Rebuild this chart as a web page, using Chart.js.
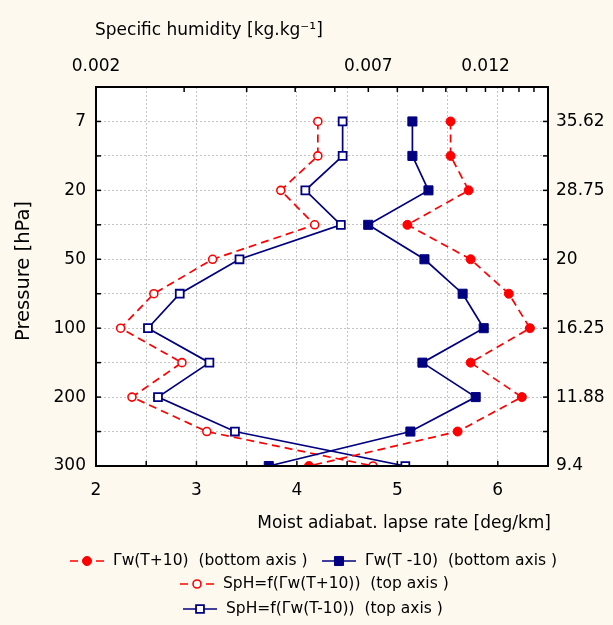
<!DOCTYPE html>
<html>
<head>
<meta charset="utf-8">
<script src="https://cdn.jsdelivr.net/npm/chart.js@4/dist/chart.umd.min.js"></script>
<style>
  body { margin: 0; background: #fdf9ee; }
  canvas { display: block; }
</style>
</head>
<body>
<canvas id="chart" width="613" height="625"></canvas>
<script>
// pressure levels (rows, top to bottom) and heights on the right axis
const pressureLevels = ['7', '10', '20', '30', '50', '70', '100', '150', '200', '250', '300']
const heightLabels = ['35.62', '', '28.75', '', '20', '', '16.25', '', '11.88', '', '9.4']

// moist adiabatic lapse rate [deg/km] (bottom axis)
const gwWarm = [5.53, 5.53, 5.71, 5.10, 5.73, 6.11, 6.32, 5.73, 6.24, 5.60, 4.12]
const gwCold = [5.15, 5.15, 5.31, 4.71, 5.27, 5.65, 5.86, 5.25, 5.78, 5.13, 3.72]

// specific humidity [kg/kg] (top axis, log)
const sphWarm = [0.00555, 0.00555, 0.00468, 0.00547, 0.00342, 0.00261, 0.00224, 0.00297, 0.00236, 0.00333, 0.00715]
const sphCold = [0.00622, 0.00622, 0.00524, 0.00617, 0.00387, 0.00294, 0.00254, 0.00337, 0.00266, 0.00379, 0.0083]

const sphTicks = [0.002, 0.003, 0.004, 0.005, 0.006, 0.007, 0.008, 0.009, 0.010, 0.011, 0.012, 0.013, 0.014, 0.015, 0.016]
const sphLabels = [0.002, 0.007, 0.012]

const RED = '#ff0000'
const NAVY = '#000080'
const FONT = '"DejaVu Sans", sans-serif'

const toPoints = arr => arr.map((v, i) => ({ x: v, y: i }))

// fundo creme + area do grafico branca
const bgPlugin = {
  id: 'bg',
  beforeDraw(chart) {
    const { ctx, chartArea: a } = chart
    ctx.save()
    ctx.fillStyle = '#fdf9ee'
    ctx.fillRect(0, 0, chart.width, chart.height)
    ctx.fillStyle = '#ffffff'
    ctx.fillRect(a.left, a.top, a.right - a.left, a.bottom - a.top)
    ctx.restore()
  }
}

// moldura, ticks para dentro, titulos e legenda
const framePlugin = {
  id: 'frame',
  afterDraw(chart) {
    const { ctx, chartArea: a } = chart
    ctx.save()
    ctx.strokeStyle = '#000'
    ctx.lineWidth = 1.5
    const len = 5
    const sc = chart.scales
    sc.x.ticks.forEach(t => {
      const p = sc.x.getPixelForValue(t.value)
      ctx.beginPath(); ctx.moveTo(p, a.bottom); ctx.lineTo(p, a.bottom - len); ctx.stroke()
    })
    sc.x2.ticks.forEach(t => {
      const p = sc.x2.getPixelForValue(t.value)
      ctx.beginPath(); ctx.moveTo(p, a.top); ctx.lineTo(p, a.top + len); ctx.stroke()
    })
    sc.y.ticks.forEach(t => {
      const p = sc.y.getPixelForValue(t.value)
      ctx.beginPath(); ctx.moveTo(a.left, p); ctx.lineTo(a.left + len, p); ctx.stroke()
    })
    sc.y2.ticks.forEach(t => {
      const p = sc.y2.getPixelForValue(t.value)
      ctx.beginPath(); ctx.moveTo(a.right, p); ctx.lineTo(a.right - len, p); ctx.stroke()
    })
    ctx.lineWidth = 2
    ctx.strokeRect(a.left, a.top, a.right - a.left, a.bottom - a.top)

    // titulos
    ctx.fillStyle = '#000'
    ctx.font = '17px ' + FONT
    ctx.textBaseline = 'middle'
    ctx.textAlign = 'left'
    ctx.fillText('Specific humidity [kg.kg\u207B\u00B9]', 95, 31)
    ctx.textAlign = 'right'
    ctx.fillText('Moist adiabat. lapse rate [deg/km]', 551, 524)
    ctx.save()
    ctx.font = '19.5px ' + FONT
    ctx.translate(24, 271)
    ctx.rotate(-Math.PI / 2)
    ctx.textAlign = 'center'
    ctx.fillText('Pressure [hPa]', 0, 0)
    ctx.restore()

    // legenda
    const items = [
      { ds: 0, x: 87, y: 561, text: 'Γw(T+10)  (bottom axis )' },
      { ds: 1, x: 339, y: 561, text: 'Γw(T -10)  (bottom axis )' },
      { ds: 2, x: 197, y: 584, text: 'SpH=f(Γw(T+10))  (top axis )' },
      { ds: 3, x: 200, y: 609, text: 'SpH=f(Γw(T-10))  (top axis )' }
    ]
    ctx.font = '15.5px ' + FONT
    ctx.textAlign = 'left'
    items.forEach(it => {
      const d = chart.data.datasets[it.ds]
      ctx.save()
      ctx.strokeStyle = d.borderColor
      ctx.lineWidth = d.borderWidth
      ctx.setLineDash(d.borderDash || [])
      ctx.beginPath(); ctx.moveTo(it.x - 17, it.y); ctx.lineTo(it.x + 17, it.y); ctx.stroke()
      ctx.setLineDash([])
      drawMarker(ctx, d, it.x, it.y)
      ctx.restore()
      ctx.fillStyle = '#000'
      ctx.fillText(it.text, it.x + 26, it.y)
    })
    ctx.restore()
  }
}

function drawMarker(ctx, d, x, y) {
  ctx.fillStyle = d.pointBackgroundColor
  ctx.strokeStyle = d.pointBorderColor
  ctx.lineWidth = d.pointBorderWidth
  ctx.beginPath()
  if (d.pointStyle == 'circle') {
    ctx.arc(x, y, d.pointRadius, 0, Math.PI * 2)
  } else {
    const h = d.pointRadius * Math.SQRT1_2
    ctx.rect(x - h, y - h, h * 2, h * 2)
  }
  ctx.fill()
  ctx.stroke()
}

const gridOpts = { color: '#c4c4c4', lineWidth: 1, drawTicks: false }
const tickFont = { family: FONT, size: 17 }

new Chart(document.getElementById('chart'), {
  type: 'scatter',
  data: {
    datasets: [
      {
        label: 'Γw(T+10) (bottom axis )',
        data: toPoints(gwWarm),
        xAxisID: 'x', yAxisID: 'y',
        showLine: true,
        borderColor: RED, borderWidth: 1.7, borderDash: [8, 5],
        pointStyle: 'circle', pointRadius: 4.5,
        pointBackgroundColor: RED, pointBorderColor: RED, pointBorderWidth: 1
      },
      {
        label: 'Γw(T -10) (bottom axis )',
        data: toPoints(gwCold),
        xAxisID: 'x', yAxisID: 'y',
        showLine: true,
        borderColor: NAVY, borderWidth: 1.7,
        pointStyle: 'rect', pointRadius: 6.4,
        pointBackgroundColor: NAVY, pointBorderColor: NAVY, pointBorderWidth: 1
      },
      {
        label: 'SpH=f(Γw(T+10)) (top axis )',
        data: toPoints(sphWarm),
        xAxisID: 'x2', yAxisID: 'y',
        showLine: true,
        borderColor: RED, borderWidth: 1.7, borderDash: [8, 5],
        pointStyle: 'circle', pointRadius: 4,
        pointBackgroundColor: '#ffffff', pointBorderColor: RED, pointBorderWidth: 1.6
      },
      {
        label: 'SpH=f(Γw(T-10)) (top axis )',
        data: toPoints(sphCold),
        xAxisID: 'x2', yAxisID: 'y',
        showLine: true,
        borderColor: NAVY, borderWidth: 1.7,
        pointStyle: 'rect', pointRadius: 5.6,
        pointBackgroundColor: '#ffffff', pointBorderColor: NAVY, pointBorderWidth: 1.8
      }
    ]
  },
  options: {
    responsive: false,
    animation: false,
    layout: { padding: 0 },
    plugins: { legend: { display: false }, tooltip: { enabled: false } },
    scales: {
      x: {
        type: 'linear', position: 'bottom', min: 2, max: 6.5,
        grid: gridOpts,
        border: { display: false, dash: [2, 2] },
        ticks: {
          stepSize: 0.5, color: '#000', font: tickFont, padding: 14,
          maxRotation: 0, autoSkip: false,
          callback: v => Number.isInteger(v) ? String(v) : ''
        },
        afterFit: s => { s.height = 159 }
      },
      x2: {
        type: 'logarithmic', position: 'top', min: 0.002, max: 0.016,
        grid: { display: false, drawTicks: false },
        border: { display: false },
        afterBuildTicks: s => { s.ticks = sphTicks.map(v => ({ value: v })) },
        ticks: {
          color: '#000', font: tickFont, padding: 10,
          maxRotation: 0, autoSkip: false,
          callback: v => sphLabels.some(l => Math.abs(l - v) < 1e-9) ? v.toFixed(3) : ''
        },
        afterFit: s => { s.height = 87 }
      },
      y: {
        type: 'linear', position: 'left', reverse: true, min: -1, max: 10,
        grid: gridOpts,
        border: { display: false, dash: [2, 2] },
        ticks: {
          stepSize: 1, color: '#000', font: tickFont, padding: 10,
          autoSkip: false,
          callback: v => (v >= 0 && v % 2 == 0) ? pressureLevels[v] : ''
        },
        afterFit: s => { s.width = 96 }
      },
      y2: {
        type: 'linear', position: 'right', reverse: true, min: -1, max: 10,
        grid: { display: false, drawTicks: false },
        border: { display: false },
        ticks: {
          stepSize: 1, color: '#000', font: tickFont, padding: 8,
          autoSkip: false,
          callback: v => v >= 0 ? heightLabels[v] : ''
        },
        afterFit: s => { s.width = 65 }
      }
    }
  },
  plugins: [bgPlugin, framePlugin]
})
</script>
</body>
</html>
